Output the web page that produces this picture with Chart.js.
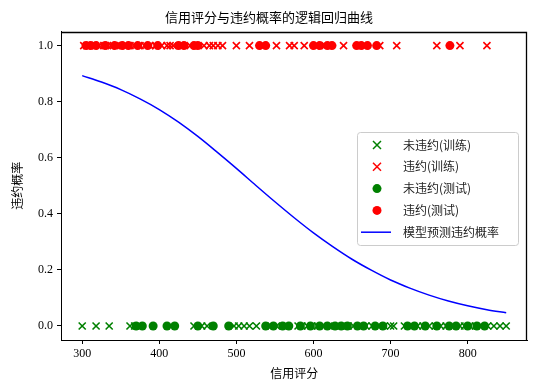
<!DOCTYPE html>
<html lang="zh">
<head>
    <meta charset="UTF-8">
    <title>信用评分与违约概率的逻辑回归曲线</title>
    <script src="https://cdn.jsdelivr.net/npm/chart.js@4.4.1/dist/chart.umd.min.js"></script>
    <style>
        html, body { margin: 0; padding: 0; background: #fff; }
        #wrap { width: 534px; height: 391px; }
    </style>
</head>
<body>
<div id="wrap"><canvas id="chart" width="534" height="391"></canvas></div>
<script>
// 训练集 (×)
const trainNoDefault = [300, 318, 335, 362, 368, 445, 455, 462, 497, 503, 510, 517, 526, 545, 552,
    580, 585, 592, 598, 605, 612, 620, 630, 638, 645, 652, 660, 668, 676, 684, 692, 700, 704,
    718, 726, 735, 742, 750, 758, 765, 772, 780, 790, 796, 803, 810, 818, 826, 834, 842, 850];
const trainDefault = [302, 306, 310, 315, 322, 328, 333, 338, 345, 350, 356, 362, 368, 375, 381,
    388, 395, 403, 410, 414, 418, 428, 440, 458, 465, 470, 476, 482, 500, 517, 535, 552, 569,
    575, 588, 603, 615, 639, 667, 686, 708, 760, 790, 825];
// 测试集 (●)
const testNoDefault = [370, 378, 392, 410, 420, 450, 470, 490, 538, 548, 560, 568, 583, 596, 608,
    618, 628, 636, 644, 657, 665, 680, 690, 722, 731, 745, 760, 776, 785, 800, 812, 822];
const testDefault = [305, 311, 318, 330, 342, 352, 360, 372, 385, 398, 425, 432, 445, 450, 530,
    538, 600, 608, 618, 624, 656, 662, 670, 682, 777];
// 模型曲线
const curveX = [300, 325, 350, 375, 400, 425, 450, 475, 500, 525, 550, 575, 600, 625, 650, 675,
    700, 725, 750, 775, 800, 825, 850];
const curveP = [0.893, 0.870, 0.843, 0.810, 0.772, 0.727, 0.676, 0.620, 0.562, 0.502, 0.443,
    0.386, 0.332, 0.283, 0.238, 0.199, 0.164, 0.135, 0.110, 0.089, 0.072, 0.058, 0.047];
const xTicks = [300, 400, 500, 600, 700, 800];
const yTicks = [0, 0.2, 0.4, 0.6, 0.8, 1.0];

const FONT = "'Liberation Serif', 'Noto Sans CJK SC', serif";
const CJK = "'Noto Sans CJK SC', sans-serif";

const pts = (arr, y) => arr.map(v => ({ x: v, y: y }));

// 图框 + 图例 (画在绘图区内)
const framePlugin = {
    id: 'frame',
    afterDraw(chart) {
        const ctx = chart.ctx;
        const sx = chart.scales.x, sy = chart.scales.y;
        const l = Math.round(sx.left), r = Math.round(sx.right);
        const t = Math.round(sy.top), b = Math.round(sy.bottom);
        ctx.save();
        ctx.strokeStyle = '#000';
        ctx.lineWidth = 1.3;
        ctx.beginPath();
        ctx.moveTo(l, t + 0.5);
        ctx.lineTo(r - 0.5, t + 0.5);
        ctx.lineTo(r - 0.5, b);
        ctx.stroke();

        const bx = 357.5, by = 132.5, bw = 161, bh = 113;
        ctx.fillStyle = 'rgba(255,255,255,0.8)';
        ctx.strokeStyle = '#ccc';
        ctx.lineWidth = 1;
        ctx.beginPath();
        ctx.roundRect(bx, by, bw, bh, 3);
        ctx.fill();
        ctx.stroke();
        ctx.font = "12px " + CJK;
        ctx.textBaseline = 'middle';
        chart.data.datasets.forEach((ds, k) => {
            const y = 145 + k * 21.8;
            const mx = 377;
            ctx.strokeStyle = ds.borderColor;
            ctx.fillStyle = ds.backgroundColor;
            if (ds.type === 'line') {
                ctx.lineWidth = 1.5;
                ctx.beginPath();
                ctx.moveTo(361, y);
                ctx.lineTo(391, y);
                ctx.stroke();
            } else if (ds.pointStyle === 'crossRot') {
                ctx.lineWidth = 1.5;
                ctx.beginPath();
                ctx.moveTo(mx - 4, y - 4); ctx.lineTo(mx + 4, y + 4);
                ctx.moveTo(mx + 4, y - 4); ctx.lineTo(mx - 4, y + 4);
                ctx.stroke();
            } else {
                ctx.beginPath();
                ctx.arc(mx, y, 4.5, 0, Math.PI * 2);
                ctx.fill();
            }
            ctx.fillStyle = '#222';
            ctx.fillText(ds.label, 403, y);
        });
        ctx.restore();
    }
};

const ctx = document.getElementById('chart').getContext('2d');
const myChart = new Chart(ctx, {
    type: 'scatter',
    data: {
        datasets: [
            {
                label: '未违约(训练)',
                data: pts(trainNoDefault, 0),
                pointStyle: 'crossRot',
                pointRadius: 5,
                pointBorderWidth: 1.6,
                borderColor: '#008000',
                backgroundColor: '#008000',
                order: 5
            },
            {
                label: '违约(训练)',
                data: pts(trainDefault, 1),
                pointStyle: 'crossRot',
                pointRadius: 5,
                pointBorderWidth: 1.6,
                borderColor: '#ff0000',
                backgroundColor: '#ff0000',
                order: 4
            },
            {
                label: '未违约(测试)',
                data: pts(testNoDefault, 0),
                pointStyle: 'circle',
                pointRadius: 4.5,
                borderWidth: 0,
                borderColor: '#008000',
                backgroundColor: '#008000',
                order: 3
            },
            {
                label: '违约(测试)',
                data: pts(testDefault, 1),
                pointStyle: 'circle',
                pointRadius: 4.5,
                borderWidth: 0,
                borderColor: '#ff0000',
                backgroundColor: '#ff0000',
                order: 2
            },
            {
                type: 'line',
                label: '模型预测违约概率',
                data: curveX.map((v, i) => ({ x: v, y: curveP[i] })),
                borderColor: '#0000ff',
                backgroundColor: '#0000ff',
                borderWidth: 1.5,
                pointRadius: 0,
                cubicInterpolationMode: 'monotone',
                fill: false,
                order: 1
            }
        ]
    },
    options: {
        responsive: false,
        animation: false,
        layout: { padding: { left: 10, right: 6, top: 0, bottom: 10 } },
        plugins: {
            legend: { display: false },
            tooltip: { enabled: false },
            title: {
                display: true,
                text: '信用评分与违约概率的逻辑回归曲线',
                color: '#000',
                font: { family: CJK, size: 13, weight: 'normal' },
                padding: { top: 9, bottom: 7 }
            }
        },
        scales: {
            x: {
                type: 'linear',
                position: 'bottom',
                min: 272.5,
                max: 877.5,
                afterBuildTicks: s => { s.ticks = xTicks.map(v => ({ value: v })); },
                afterFit: s => { s.height = 41; },
                grid: { display: true, drawOnChartArea: false, drawTicks: true, tickLength: 4, color: '#000' },
                border: { display: true, color: '#000' },
                ticks: { color: '#000', font: { family: FONT, size: 12 }, padding: 3, maxRotation: 0 },
                title: {
                    display: true,
                    text: '信用评分',
                    color: '#000',
                    font: { family: CJK, size: 12 },
                    padding: { top: 2, bottom: 0 }
                }
            },
            y: {
                position: 'left',
                min: -0.05,
                max: 1.05,
                afterBuildTicks: s => { s.ticks = yTicks.map(v => ({ value: v })); },
                afterFit: s => { s.width = 51; },
                grid: { display: true, drawOnChartArea: false, drawTicks: true, tickLength: 4, color: '#000' },
                border: { display: true, color: '#000' },
                ticks: {
                    color: '#000',
                    font: { family: FONT, size: 12 },
                    padding: 4,
                    callback: v => v.toFixed(1)
                },
                title: {
                    display: true,
                    text: '违约概率',
                    color: '#000',
                    font: { family: CJK, size: 12 },
                    padding: { top: 0, bottom: 0 }
                }
            }
        }
    },
    plugins: [framePlugin]
});
</script>
</body>
</html>
